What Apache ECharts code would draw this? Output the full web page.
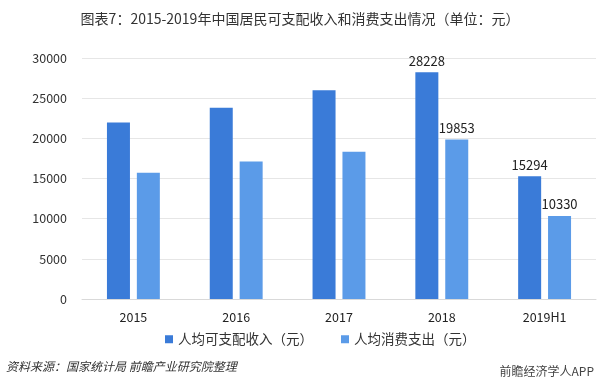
<!DOCTYPE html>
<html><head><meta charset="utf-8">
<script src="https://cdn.jsdelivr.net/npm/echarts@6/dist/echarts.min.js"></script>
<style>html,body{margin:0;padding:0;background:#fff}#c{width:600px;height:391px}</style>
</head><body><div id="c"></div>
<script>
const categories = ['2015','2016','2017','2018','2019H1'];
const income = [21966, 23821, 25974, 28228, 15294];
const consumption = [15712, 17111, 18322, 19853, 10330];
const labeledIdx = [3, 4];
const yTicks = {min: 0, max: 30000, interval: 5000};

const font = '"Microsoft YaHei","Noto Sans CJK SC",sans-serif';
const chart = echarts.init(document.getElementById('c'));
const mk = (arr) => arr.map((v, i) => ({
  value: v,
  label: {show: labeledIdx.includes(i)}
}));
chart.setOption({
  animation: false,
  title: {
    text: '图表7：2015-2019年中国居民可支配收入和消费支出情况（单位：元）',
    left: 'center', top: 7,
    textStyle: {fontSize: 14, fontWeight: 'normal', color: '#333', fontFamily: font}
  },
  legend: {
    bottom: 40, left: 160, itemWidth: 8, itemHeight: 8, itemGap: 28,
    icon: 'rect',
    textStyle: {fontSize: 13.5, color: '#333', fontFamily: font},
    data: ['人均可支配收入（元）', '人均消费支出（元）']
  },
  grid: {left: 82, right: 4, top: 58, bottom: 92},
  xAxis: {
    type: 'category', data: categories,
    axisLine: {show: true, lineStyle: {color: '#d9d9d9'}},
    axisTick: {show: false},
    axisLabel: {fontSize: 12.5, color: '#222', margin: 12, fontFamily: font}
  },
  yAxis: {
    type: 'value', min: yTicks.min, max: yTicks.max, interval: yTicks.interval,
    axisLine: {show: false}, axisTick: {show: false},
    axisLabel: {fontSize: 12.5, color: '#333', margin: 15, fontFamily: font, formatter: v => String(v)},
    splitLine: {lineStyle: {color: '#e6e6e6'}}
  },
  series: [
    {name: '人均可支配收入（元）', type: 'bar', data: mk(income), barWidth: 23, barGap: '30%',
     itemStyle: {color: '#3a7bd8'},
     label: {position: 'top', fontSize: 13, color: '#222', fontFamily: font}},
    {name: '人均消费支出（元）', type: 'bar', data: mk(consumption), barWidth: 23,
     itemStyle: {color: '#5b9be8'},
     label: {position: 'top', fontSize: 13, color: '#222', fontFamily: font}}
  ],
  graphic: [
    {type: 'text', left: 6, top: 360,
     style: {text: '资料来源：国家统计局 前瞻产业研究院整理', fill: '#333', font: 'italic 12px ' + font}},
    {type: 'text', right: 6, top: 365,
     style: {text: '前瞻经济学人APP', fill: '#444', font: '12px ' + font}}
  ]
});
</script></body></html>
